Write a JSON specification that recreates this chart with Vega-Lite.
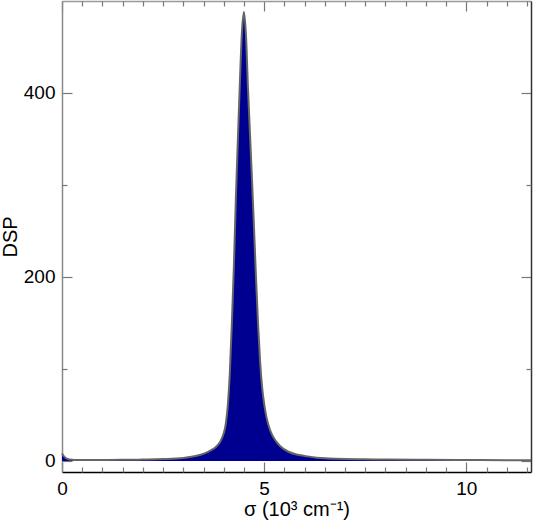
{
  "$schema": "https://vega.github.io/schema/vega-lite/v6.json",
  "width": 469,
  "height": 471,
  "autosize": {"type": "none"},
  "padding": {"left": 62, "top": 1, "right": 3, "bottom": 55},
  "background": "white",
  "config": {
    "view": {"stroke": null},
    "font": "Liberation Sans",
    "axis": {"grid": false, "labelFont": "Liberation Sans", "titleFont": "Liberation Sans", "labelColor": "black", "titleColor": "black", "labelFontSize": 19, "titleFontSize": 20, "titleFontWeight": "normal", "tickColor": "#777", "domainColor": "#555", "tickWidth": 1.2, "domainWidth": 1.5}
  },
  "data": {"values": [
    {"s": 0, "d": 8}, {"s": 0.05, "d": 5}, {"s": 0.1, "d": 3}, {"s": 0.2, "d": 1.5}, {"s": 0.3, "d": 1}, {"s": 0.5, "d": 1},
    {"s": 1, "d": 1}, {"s": 1.5, "d": 1.2}, {"s": 2, "d": 1.5}, {"s": 2.5, "d": 2}, {"s": 3, "d": 3.3}, {"s": 3.2, "d": 4.5},
    {"s": 3.4, "d": 6.5}, {"s": 3.6, "d": 9.5}, {"s": 3.7, "d": 12}, {"s": 3.8, "d": 15}, {"s": 3.9, "d": 20}, {"s": 4.0, "d": 30},
    {"s": 4.05, "d": 40}, {"s": 4.1, "d": 60}, {"s": 4.15, "d": 95}, {"s": 4.2, "d": 148}, {"s": 4.25, "d": 210}, {"s": 4.3, "d": 285},
    {"s": 4.35, "d": 350}, {"s": 4.4, "d": 412}, {"s": 4.45, "d": 466}, {"s": 4.5, "d": 488}, {"s": 4.55, "d": 463}, {"s": 4.6, "d": 405},
    {"s": 4.65, "d": 355}, {"s": 4.7, "d": 305}, {"s": 4.75, "d": 252}, {"s": 4.8, "d": 197}, {"s": 4.85, "d": 148}, {"s": 4.9, "d": 108},
    {"s": 4.95, "d": 80}, {"s": 5.0, "d": 62}, {"s": 5.05, "d": 49}, {"s": 5.1, "d": 40}, {"s": 5.2, "d": 28}, {"s": 5.3, "d": 21},
    {"s": 5.4, "d": 16}, {"s": 5.6, "d": 10}, {"s": 5.8, "d": 7}, {"s": 6.0, "d": 5.5}, {"s": 6.3, "d": 3.5}, {"s": 6.6, "d": 2.8},
    {"s": 7, "d": 2.2}, {"s": 7.5, "d": 1.8}, {"s": 8, "d": 1.5}, {"s": 9, "d": 1.2}, {"s": 10, "d": 1}, {"s": 11, "d": 0.8}, {"s": 11.6, "d": 0.8}
  ]},
  "resolve": {"axis": {"x": "independent", "y": "independent"}},
  "layer": [
    {
      "mark": {"type": "area", "color": "#000090", "interpolate": "monotone"},
      "encoding": {
        "x": {"field": "s", "type": "quantitative", "scale": {"domain": [0, 11.6], "nice": false, "zero": false},
          "axis": {"orient": "bottom", "values": [0, 5, 10], "tickSize": -10, "labelPadding": 17, "domainColor": "black", "title": "σ (10³ cm⁻¹)", "titlePadding": 1, "labelFlush": false}},
        "y": {"field": "d", "type": "quantitative", "scale": {"domain": [-12, 500], "nice": false, "zero": false},
          "axis": {"orient": "left", "values": [0, 200, 400], "tickSize": -10, "labelPadding": 17, "domainColor": "#888", "title": "DSP", "titlePadding": 3}}
      }
    },
    {
      "mark": {"type": "line", "color": "#666", "strokeWidth": 2, "interpolate": "monotone"},
      "encoding": {
        "x": {"field": "s", "type": "quantitative", "axis": null},
        "y": {"field": "d", "type": "quantitative", "axis": null}
      }
    },
    {
      "mark": {"type": "point", "opacity": 0},
      "encoding": {
        "x": {"field": "s", "type": "quantitative", "axis": {"orient": "bottom", "values": [0.5, 1, 1.5, 2, 2.5, 3, 3.5, 4, 4.5, 5.5, 6, 6.5, 7, 7.5, 8, 8.5, 9, 9.5, 10.5, 11, 11.5], "tickSize": -5, "labels": false, "domain": false, "title": null}},
        "y": {"field": "d", "type": "quantitative", "axis": {"orient": "left", "values": [100, 300], "tickSize": -5, "labels": false, "domain": false, "title": null}}
      }
    },
    {
      "mark": {"type": "point", "opacity": 0},
      "encoding": {
        "x": {"field": "s", "type": "quantitative", "axis": {"orient": "top", "values": [0, 5, 10], "tickSize": -10, "labels": false, "domain": true, "domainColor": "#999", "title": null}},
        "y": {"field": "d", "type": "quantitative", "axis": {"orient": "right", "values": [0, 200, 400], "tickSize": -10, "labels": false, "domain": true, "domainColor": "#333", "title": null}}
      }
    },
    {
      "mark": {"type": "point", "opacity": 0},
      "encoding": {
        "x": {"field": "s", "type": "quantitative", "axis": {"orient": "top", "values": [0.5, 1, 1.5, 2, 2.5, 3, 3.5, 4, 4.5, 5.5, 6, 6.5, 7, 7.5, 8, 8.5, 9, 9.5, 10.5, 11, 11.5], "tickSize": -5, "labels": false, "domain": false, "title": null}},
        "y": {"field": "d", "type": "quantitative", "axis": {"orient": "right", "values": [100, 300], "tickSize": -5, "labels": false, "domain": false, "title": null}}
      }
    }
  ]
}
